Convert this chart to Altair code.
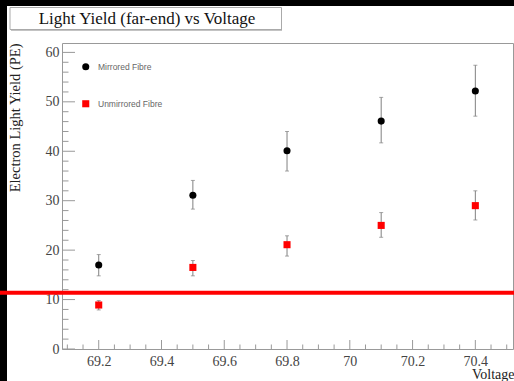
import altair as alt
import pandas as pd

# ---- data ----
voltage = [69.2, 69.5, 69.8, 70.1, 70.4]
series = ["Mirrored Fibre", "Unmirrored Fibre"]
mirrored = [17.0, 31.1, 40.1, 46.1, 52.2]
mirrored_lo = [14.8, 28.3, 36.0, 41.7, 47.1]
mirrored_hi = [19.1, 34.1, 44.0, 50.9, 57.4]
unmirrored = [8.9, 16.5, 21.1, 25.0, 29.0]
unmirrored_lo = [7.9, 14.8, 18.8, 22.6, 26.1]
unmirrored_hi = [9.8, 17.9, 22.9, 27.6, 32.0]
red_line = [11.4]

x_major = [69.2, 69.4, 69.6, 69.8, 70.0, 70.2, 70.4]
y_major = [0, 10, 20, 30, 40, 50, 60]

# minor tick positions (axis decoration)
x_minor = [round(69.1 + 0.05 * i, 2) for i in range(29)]
x_minor = [t for t in x_minor if all(abs(t - m) > 1e-6 for m in x_major)]
y_minor = [t for t in range(0, 62, 2) if t % 10 != 0]

W, H = 451, 306
SERIF = "Liberation Serif"
GRAY = "#999999"

rows = []
for name, c, lo, hi in zip(series, [mirrored, unmirrored],
                           [mirrored_lo, unmirrored_lo],
                           [mirrored_hi, unmirrored_hi]):
    for v, yc, l, h in zip(voltage, c, lo, hi):
        rows.append(dict(v=v, y=yc, lo=l, hi=h, series=name))
df = pd.DataFrame(rows)

xs = alt.Scale(domain=[69.083, 70.52], nice=False, zero=False)
ys = alt.Scale(domain=[0, 61.9], nice=False, zero=False)

xaxis = alt.Axis(values=x_major, format="~g", title="Voltage",
                 labelPadding=5,
                 titleAnchor="end", titleAlign="right",
                 titleX=W + 1, titleY=29, titleBaseline="alphabetic")
yaxis = alt.Axis(values=y_major, title="Electron Light Yield (PE)",
                 labelPadding=3, titleFontSize=14.5,
                 titleAngle=270, titleAlign="right",
                 titleX=-43, titleY=0, titleBaseline="alphabetic")

X = alt.X("v:Q", scale=xs, axis=xaxis)

one = alt.Data(values=[{}])

black_top = alt.Chart(one).mark_rect(color="black").encode(
    x=alt.value(-62), x2=alt.value(W + 1), y=alt.value(-43), y2=alt.value(-37))
black_left = alt.Chart(one).mark_rect(color="black").encode(
    x=alt.value(-62), x2=alt.value(-55), y=alt.value(-43), y2=alt.value(H + 32))

title_shadow = alt.Chart(one).mark_rect(fill="#888888").encode(
    x=alt.value(-51), x2=alt.value(220), y=alt.value(-34), y2=alt.value(-12.5))
title_box = alt.Chart(one).mark_rect(fill="white", stroke="#aaaaaa", strokeWidth=1).encode(
    x=alt.value(-52), x2=alt.value(219.5), y=alt.value(-35.5), y2=alt.value(-13.5))
title_txt = alt.Chart(one).mark_text(
    text="Light Yield (far-end) vs Voltage", font=SERIF, fontSize=17,
    color="#111111", align="center", baseline="alphabetic").encode(
    x=alt.value(85), y=alt.value(-19))

xmaj = alt.Chart(pd.DataFrame({"v": x_major})).mark_rule(color=GRAY, strokeWidth=1).encode(
    x=X, y=alt.value(H), y2=alt.value(H - 9))
xmin = alt.Chart(pd.DataFrame({"v": x_minor})).mark_rule(color=GRAY, strokeWidth=1).encode(
    x=X, y=alt.value(H), y2=alt.value(H - 4.5))
ymaj = alt.Chart(pd.DataFrame({"y": y_major})).mark_rule(color=GRAY, strokeWidth=1).encode(
    y=alt.Y("y:Q", scale=ys, axis=yaxis), x=alt.value(0), x2=alt.value(13))
ymin = alt.Chart(pd.DataFrame({"y": y_minor})).mark_rule(color=GRAY, strokeWidth=1).encode(
    y=alt.Y("y:Q", scale=ys, axis=yaxis), x=alt.value(0), x2=alt.value(6.5))

err = alt.Chart(df).mark_rule(color="#808080", strokeWidth=1).encode(
    x=X, y=alt.Y("lo:Q", scale=ys, axis=yaxis), y2="hi:Q")
caps = alt.Chart(df).transform_fold(["lo", "hi"], as_=["k", "val"]).mark_tick(
    orient="horizontal", size=4, thickness=1, color="#808080").encode(
    x=X, y=alt.Y("val:Q", scale=ys, axis=yaxis))

leg = alt.Legend(orient="none", legendX=19.5, legendY=19.5, title=None,
                 symbolSize=50, labelFontSize=8.5, labelFont="Liberation Sans",
                 labelColor="#666666", rowPadding=28, padding=0,
                 labelOffset=8, symbolStrokeWidth=0)

pts = alt.Chart(df).mark_point(filled=True, opacity=1, size=50).encode(
    x=X, y=alt.Y("y:Q", scale=ys, axis=yaxis),
    color=alt.Color("series:N", scale=alt.Scale(domain=series, range=["#000000", "#ff0000"]),
                    legend=leg),
    shape=alt.Shape("series:N", scale=alt.Scale(domain=series, range=["circle", "square"]),
                    legend=leg))

redline = alt.Chart(pd.DataFrame({"y": red_line})).mark_rule(color="#ff0000", strokeWidth=4).encode(
    y=alt.Y("y:Q", scale=ys, axis=yaxis), x=alt.value(-62), x2=alt.value(W + 1))

chart = alt.layer(
    black_top, black_left, title_shadow, title_box, title_txt,
    xmin, xmaj, ymin, ymaj, err, caps, pts, redline
).properties(
    width=W, height=H,
    autosize=alt.AutoSizeParams(type="none"),
    padding={"left": 62, "top": 43, "right": 1, "bottom": 32},
    background="white",
).configure_view(
    stroke=GRAY, strokeWidth=1
).configure_axis(
    domain=False, ticks=False, grid=False,
    labelFont=SERIF, labelFontSize=14, labelColor="#444444", labelFlush=False,
    titleFont=SERIF, titleFontSize=14, titleFontWeight="normal", titleColor="#222222",
)

chart.save("out.html", embed_options={"renderer": "svg", "actions": False})
